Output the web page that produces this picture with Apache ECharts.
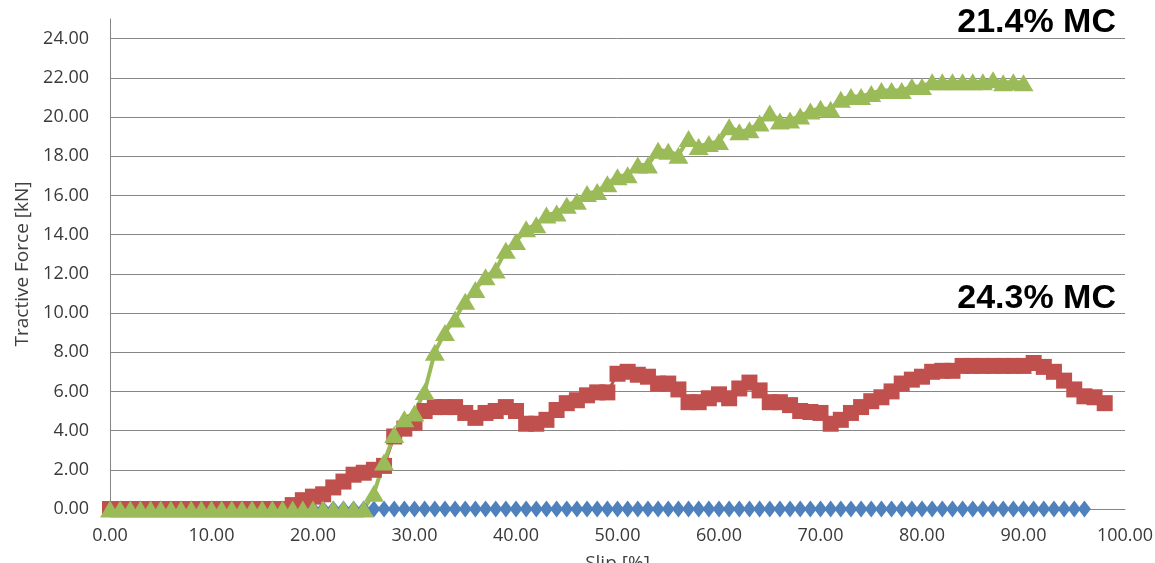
<!DOCTYPE html>
<html>
<head>
<meta charset="utf-8">
<title>Tractive Force vs Slip</title>
<script src="https://cdn.jsdelivr.net/npm/echarts@6/dist/echarts.min.js"></script>
<style>
    html, body { margin: 0; padding: 0; background: #fff; }
    #chart { width: 1155px; height: 563px; }
</style>
</head>
<body>
<div id="chart"></div>
<script>
// slip [%]
var slip = [0, 1, 2, 3, 4, 5, 6, 7, 8, 9, 10, 11, 12, 13, 14, 15, 16, 17, 18, 19,
    20, 21, 22, 23, 24, 25, 26, 27, 28, 29, 30, 31, 32, 33, 34, 35, 36, 37, 38, 39,
    40, 41, 42, 43, 44, 45, 46, 47, 48, 49, 50, 51, 52, 53, 54, 55, 56, 57, 58, 59,
    60, 61, 62, 63, 64, 65, 66, 67, 68, 69, 70, 71, 72, 73, 74, 75, 76, 77, 78, 79,
    80, 81, 82, 83, 84, 85, 86, 87, 88, 89, 90, 91, 92, 93, 94, 95, 96, 97, 98];

// blue series, 0..96
var blueForce = [0, 0, 0, 0, 0, 0, 0, 0, 0, 0, 0, 0, 0, 0, 0, 0, 0, 0, 0, 0,
    0, 0, 0, 0, 0, 0, 0, 0, 0, 0, 0, 0, 0, 0, 0, 0, 0, 0, 0, 0,
    0, 0, 0, 0, 0, 0, 0, 0, 0, 0, 0, 0, 0, 0, 0, 0, 0, 0, 0, 0,
    0, 0, 0, 0, 0, 0, 0, 0, 0, 0, 0, 0, 0, 0, 0, 0, 0, 0, 0, 0,
    0, 0, 0, 0, 0, 0, 0, 0, 0, 0, 0, 0, 0, 0, 0, 0, 0];

// 24.3% MC, 0..98
var redForce = [0, 0, 0, 0, 0, 0, 0, 0, 0, 0, 0, 0, 0, 0, 0, 0, 0, 0, 0.2, 0.45,
    0.63, 0.75, 1.1, 1.4, 1.75, 1.85, 2.0, 2.2, 3.7, 4.1, 4.4, 5.0, 5.2, 5.2, 5.2, 4.9, 4.65, 4.9, 5.0, 5.2,
    5.0, 4.35, 4.35, 4.55, 5.05, 5.4, 5.55, 5.8, 5.95, 5.95, 6.9, 7.0, 6.85, 6.75, 6.4, 6.4, 6.1, 5.45, 5.45, 5.65,
    5.85, 5.65, 6.15, 6.45, 6.05, 5.45, 5.45, 5.3, 5.0, 4.95, 4.9, 4.35, 4.55, 4.9, 5.2, 5.5, 5.7, 6.0, 6.4, 6.6,
    6.75, 7.0, 7.05, 7.05, 7.3, 7.3, 7.3, 7.3, 7.3, 7.3, 7.3, 7.45, 7.25, 7.0, 6.55, 6.1, 5.75, 5.7, 5.4];

// 21.4% MC, 0..90
var greenForce = [0, 0, 0, 0, 0, 0, 0, 0, 0, 0, 0, 0, 0, 0, 0, 0, 0, 0, 0, 0,
    0, 0, 0, 0, 0, 0, 0.8, 2.4, 3.8, 4.6, 4.9, 6.0, 8.0, 9.0, 9.7, 10.6, 11.2, 11.85, 12.2, 13.2,
    13.65, 14.3, 14.5, 15.0, 15.1, 15.5, 15.7, 16.1, 16.2, 16.6, 16.95, 17.05, 17.55, 17.55, 18.3, 18.25, 18.05, 18.9, 18.5, 18.65,
    18.75, 19.5, 19.25, 19.35, 19.7, 20.2, 19.8, 19.85, 20.05, 20.3, 20.45, 20.4, 20.9, 21.05, 21.05, 21.2, 21.35, 21.35, 21.35, 21.55,
    21.55, 21.8, 21.8, 21.8, 21.8, 21.8, 21.8, 21.9, 21.75, 21.8, 21.75];

var labelFont = 'Open Sans';
var axisGray = '#868686';

function pairs(ys) {
    var out = [];
    for (var i = 0; i < ys.length; i++) {
        out.push([slip[i], ys[i]]);
    }
    return out;
}

var chart = echarts.init(document.getElementById('chart'));

var option = {
    animation: false,
    backgroundColor: '#fff',
    grid: {
        left: 110,
        right: 30,
        top: 19,
        bottom: 54,
        containLabel: false,
        outerBoundsMode: 'none'
    },
    xAxis: {
        type: 'value',
        min: 0,
        max: 100,
        interval: 10,
        name: 'Slip [%]',
        nameLocation: 'middle',
        nameGap: 45,
        nameTextStyle: {fontFamily: labelFont, fontSize: 19, color: '#404040'},
        axisLine: {show: true, lineStyle: {color: axisGray, width: 1}},
        axisTick: {show: false},
        splitLine: {show: false},
        axisLabel: {
            margin: 18,
            fontFamily: labelFont,
            fontSize: 18,
            color: '#3a3a3a',
            formatter: function (v) { return v.toFixed(2); }
        }
    },
    yAxis: {
        type: 'value',
        min: 0,
        max: 25,
        interval: 2,
        name: 'Tractive Force [kN]',
        nameLocation: 'middle',
        nameGap: 77,
        nameRotate: 90,
        nameTextStyle: {fontFamily: labelFont, fontSize: 19, color: '#404040'},
        axisLine: {show: true, lineStyle: {color: axisGray, width: 1}},
        axisTick: {show: false},
        splitLine: {show: true, showMaxLine: false, lineStyle: {color: axisGray, width: 1}},
        axisLabel: {
            margin: 21,
            showMaxLabel: false,
            fontFamily: labelFont,
            fontSize: 18,
            color: '#3a3a3a',
            formatter: function (v) { return v.toFixed(2); }
        }
    },
    series: [
        {
            name: 'blue',
            type: 'line',
            data: pairs(blueForce),
            symbol: 'diamond',
            symbolSize: [13, 17],
            itemStyle: {color: '#4F81BD'},
            lineStyle: {color: '#4F81BD', width: 3}
        },
        {
            name: '24.3% MC',
            type: 'line',
            data: pairs(redForce),
            symbol: 'rect',
            symbolSize: 16,
            itemStyle: {color: '#C0504D'},
            lineStyle: {color: '#C0504D', width: 3}
        },
        {
            name: '21.4% MC',
            type: 'line',
            data: pairs(greenForce),
            symbol: 'triangle',
            symbolSize: [20, 17],
            itemStyle: {color: '#9BBB59'},
            lineStyle: {color: '#9BBB59', width: 4}
        }
    ],
    graphic: [
        {
            type: 'text',
            x: 1116,
            y: 23,
            style: {
                text: '21.4% MC',
                align: 'right',
                verticalAlign: 'middle',
                font: 'bold 34px "Liberation Sans", Arial, sans-serif',
                fill: '#000'
            }
        },
        {
            type: 'text',
            x: 1116,
            y: 299,
            style: {
                text: '24.3% MC',
                align: 'right',
                verticalAlign: 'middle',
                font: 'bold 34px "Liberation Sans", Arial, sans-serif',
                fill: '#000'
            }
        }
    ]
};

chart.setOption(option);
</script>
</body>
</html>
